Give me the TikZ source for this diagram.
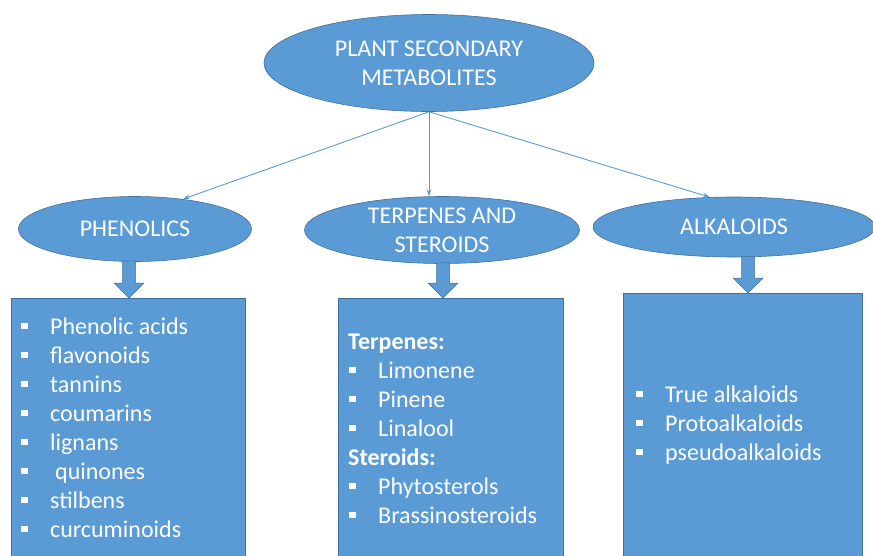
\documentclass[tikz,border=0pt]{standalone}
\usepackage{fontspec}
\setmainfont{Carlito}
\usetikzlibrary{shapes.geometric,arrows.meta,calc}
\definecolor{blfill}{HTML}{5B9BD5}
\definecolor{blline}{HTML}{41719C}
\newcommand\mybul{\makebox[29pt][l]{\raisebox{5pt}{\rule{6.5pt}{6.5pt}}}}
\newcommand\blockarr[3]{% x, box, ellipse
  \filldraw[blockstyle] (#2.north -| {#1,0}) -- ++(-15,-15) -- ++(8.5,0)
    -- ($(#3.south -| {#1,0})+(-6.5,-1)$) -- ++(13,0)
    -- ($(#2.north -| {#1,0})+(6.5,-15)$) -- ++(8.5,0) -- cycle;}
\tikzset{
  ell/.style={ellipse, fill=blfill, draw=blline, line width=0.6pt, inner sep=0pt,
    text=white, align=center, font=\fontsize{24}{29}\selectfont},
  listbox/.style={rectangle, fill=blfill, draw=blline, line width=0.6pt, anchor=north west, inner sep=0pt},
  item/.style={anchor=base west, inner sep=0pt, text=white, font=\fontsize{24}{29}\selectfont},
  conn/.style={draw=blfill, line width=0.9pt, -{Stealth[length=7pt,width=5pt]}},
  blockstyle/.style={fill=blfill, draw=blline, line width=0.5pt}
}
\begin{document}
\begin{tikzpicture}[x=1pt,y=-1pt]
\useasboundingbox (0,0) rectangle (873,555);
% boxes
\node[listbox, minimum width=234pt, minimum height=280pt] (pb) at (11,298) {};
\node[listbox, minimum width=225pt, minimum height=280pt] (tb) at (338,298) {};
\node[listbox, minimum width=239pt, minimum height=285pt] (ab) at (623,293) {};
% ellipses
\node[ell, minimum width=330pt, minimum height=97pt] (top) at (429,63) {PLANT SECONDARY\\METABOLITES};
\node[ell, minimum width=233pt, minimum height=65pt] (ph) at (135,229) {PHENOLICS};
\node[ell, minimum width=275pt, minimum height=67pt] (te) at (442,230) {TERPENES AND\\STEROIDS};
\node[ell, minimum width=282pt, minimum height=60pt] (al) at (734,227) {ALKALOIDS};
% connectors
\draw[conn] (top.south) -- (ph.32);
\draw[conn] (top.south) -- (top.south |- te.north);
\draw[conn] (top.south) -- (al.129);
% block arrows
\blockarr{129}{pb}{ph}
\blockarr{443}{tb}{te}
\blockarr{748}{ab}{al}
% phenolics list
\node[item] (p1) at (21,334) {\mybul Phenolic acids};
\node[item] (p2) at (21,363) {\mybul flavonoids};
\node[item] (p3) at (21,392) {\mybul tannins};
\node[item] (p4) at (21,421) {\mybul coumarins};
\node[item] (p5) at (21,450) {\mybul lignans};
\node[item] (p6) at (21,479) {\mybul\hspace{5pt}quinones};
\node[item] (p7) at (21,508) {\mybul stilbens};
\node[item] (p8) at (21,537) {\mybul curcuminoids};
% terpenes list
\node[item] (t0) at (348,349) {\textbf{Terpenes:}};
\node[item] (t1) at (349,378) {\mybul Limonene};
\node[item] (t2) at (349,407) {\mybul Pinene};
\node[item] (t3) at (349,436) {\mybul Linalool};
\node[item] (t4) at (348,465) {\textbf{Steroids:}};
\node[item] (t5) at (349,494) {\mybul Phytosterols};
\node[item] (t6) at (349,523) {\mybul Brassinosteroids};
% alkaloids list
\node[item] (a1) at (636,402) {\mybul True alkaloids};
\node[item] (a2) at (636,431) {\mybul Protoalkaloids};
\node[item] (a3) at (636,460) {\mybul pseudoalkaloids};
\end{tikzpicture}
\end{document}
